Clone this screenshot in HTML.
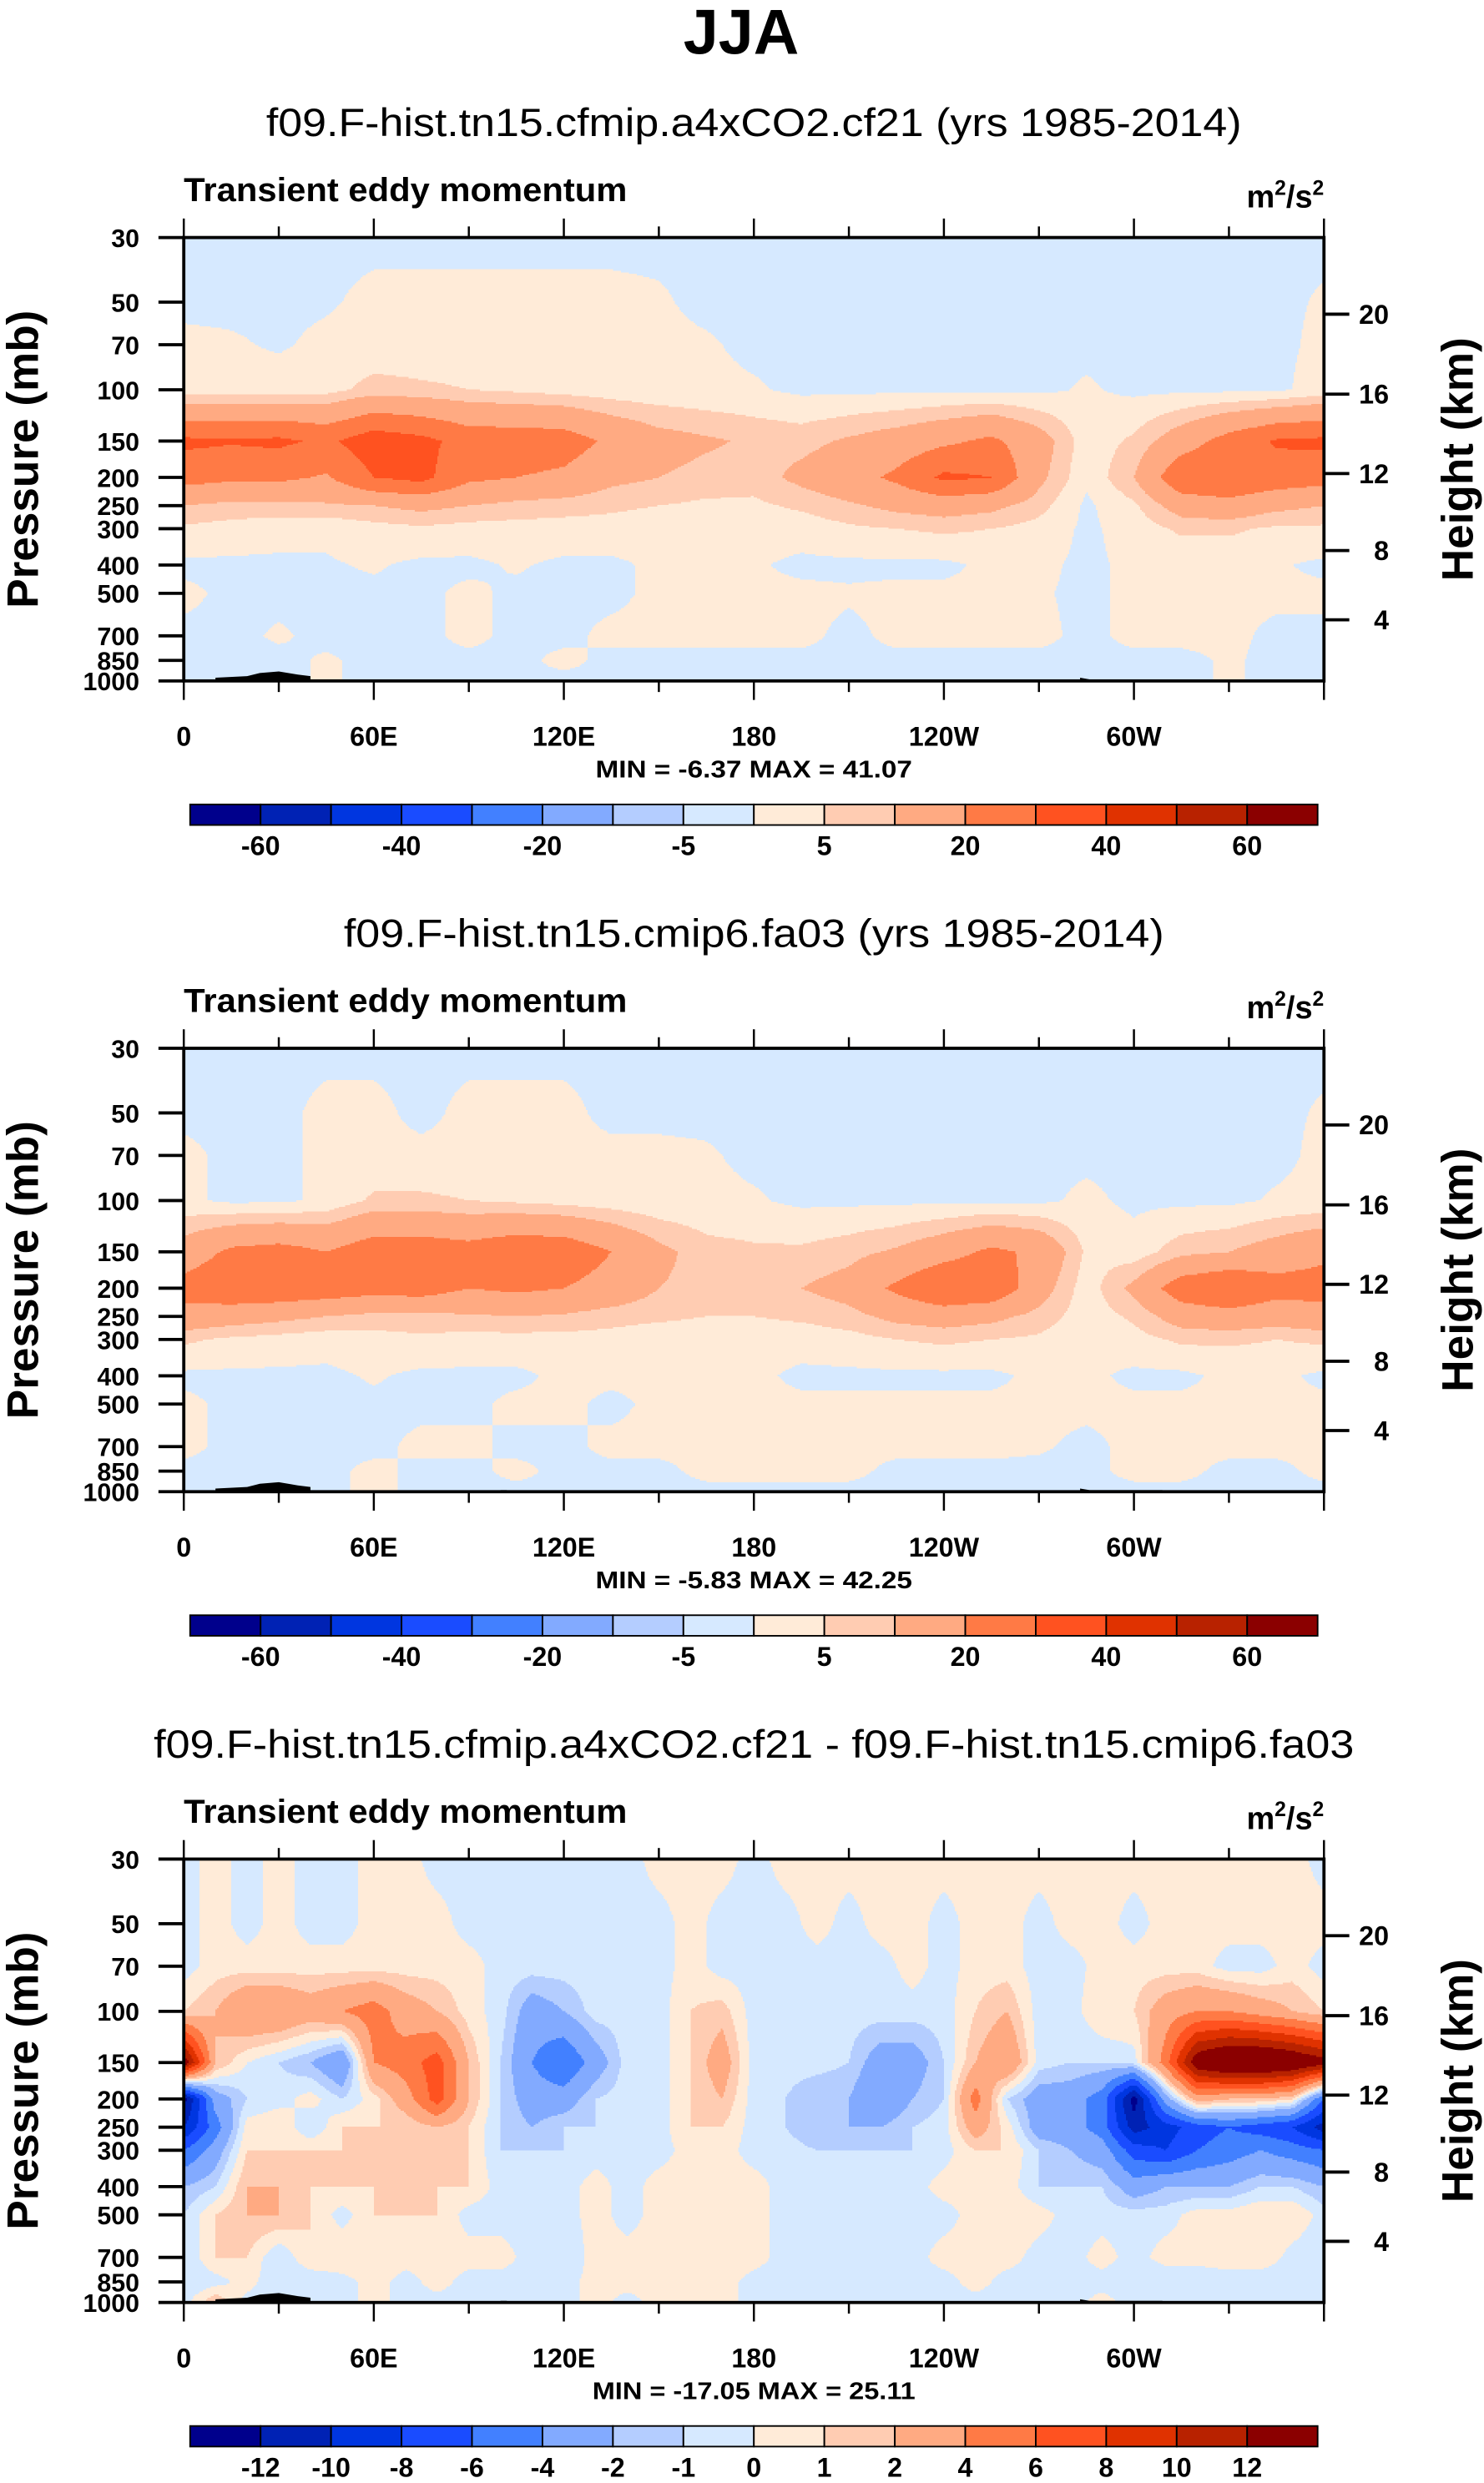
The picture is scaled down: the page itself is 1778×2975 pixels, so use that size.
<!DOCTYPE html>
<html><head><meta charset="utf-8">
<style>
html,body{margin:0;padding:0;background:#fff;}
svg{display:block;}
text{font-family:"Liberation Sans",Arial,sans-serif;}
</style></head>
<body>
<svg id="fig" xmlns="http://www.w3.org/2000/svg" width="1778" height="2975" viewBox="0 0 937 1568">
<text x="468" y="34" text-anchor="middle" font-size="40" font-weight="bold" textLength="73" lengthAdjust="spacingAndGlyphs">JJA</text>
</svg>
<script>
// ---------- data ----------
const levels = [30,50,70,100,150,200,250,300,400,500,700,850,1000];
const lonsAB = [0,15,30,45,60,75,90,105,120,135,150,165,180,195,210,225,240,255,270,285,300,315,330,345,360];
const lonsD = [0,10,20,30,40,50,60,70,80,90,100,110,120,130,140,150,160,170,180,190,200,210,220,230,240,250,260,270,280,290,300,310,320,330,340,350,360];
const lonTickLabels = ["0","60E","120E","180","120W","60W"];
const pressureTickLabels = ["30","50","70","100","150","200","250","300","400","500","700","850","1000"];
const heightTickLabels = ["4","8","12","16","20"];
const heightTickPressures = [616.6,356.5,194,103.5,55];
const levelsAB = [-60,-50,-40,-30,-20,-10,-5,0,5,10,20,30,40,50,60];
const labelsAB = ["-60","","-40","","-20","","-5","","5","","20","","40","","60"];
const levelsD = [-12,-10,-8,-6,-4,-2,-1,0,1,2,4,6,8,10,12];
const labelsD = ["-12","-10","-8","-6","-4","-2","-1","0","1","2","4","6","8","10","12"];
const colors = ["#00008c","#0022b4","#0036e0","#1a4cff","#4280ff","#82aaff","#b4cdff","#d6e9ff","#ffebd8","#ffccb2","#ffaa82","#ff7a45","#ff5220","#e03200","#b82200","#8b0000"];

const fieldA = [
[-1,-1,-1,-1,-1,-1,-1,-1,-1,-1,-1,-1,-1,-1,-1,-1,-1,-1,-1,-1,-1,-1,-1,-1,-1],
[-1,-1,-1,-0.5,1,1,1,1,1,1,0.5,-1,-1,-1,-1,-1,-1,-1,-1,-1,-1,-1,-1,-1,0.5],
[1,0.5,-0.5,1,1.5,1.5,1.5,1,1,1,1,0.5,-1,-1,-1,-1,-1,-1,-1,-1,-1,-1,-1,-1,1],
[2,2,2,3,7,6,5,4,3,2,1.5,1,0.5,-1,-1,-1,-1,-1,-1,0.5,-1,-1,-1,-1,2],
[32,31,32,28,36,33,26,26,25,18,13,11,9,8,11,14,18,22,14,2,6,15,24,31,32],
[24,22,22,19,30,33,22,20,18,12,10,8,7,12,16,22,32,30,12,1,10,28,30,26,24],
[10,8,8,9,10,12,10,8,7,6,5,4,4,6,9,12,14,12,7,-1,4,14,16,12,10],
[4,3,2,1,3,4,3,3,3,3,2,2,2,2,4,5,6,5,3,-1,2,6,6,4,4],
[-1,-1,-1,-0.5,0.5,-1,-1,0.5,-1,-1,1,1,0.5,-1,-1,-1,-1,1,1,-1,1,1,1,0.5,-1],
[1,-1,-1,-1,-1,-1,1,-1,-1,-1,1,1,1,1,0.5,1,1,1,0.5,-1,1,1,1,1,1],
[-1,-1,0.5,-1,-1,-1,1,-1,-1,1,1,1,1,1,-1,1,1,1,1,-1,1,1,1,-1,-1],
[-1,-1,-1,0.5,-1,-1,-1,-1,1,-1,-1,-1,-1,-1,-1,-1,-1,-1,-1,-1,-1,-1,0.5,-1,-1],
[-1,-1,-1,0.5,-1,-1,-1,-1,-1,-1,-1,-1,-1,-1,-1,-1,-1,-1,-1,-1,-1,-1,0.5,-1,-1]];

const fieldB = [
[-1,-1,-1,-1,-1,-1,-1,-1,-1,-1,-1,-1,-1,-1,-1,-1,-1,-1,-1,-1,-1,-1,-1,-1,-1],
[-1,-1,-1,1,1,-1,1,1,1,-1,-1,-1,-1,-1,-1,-1,-1,-1,-1,-1,-1,-1,-1,-1,0.5],
[1,-1,-1,1,1,1,1,1,1,1,1,0.5,-1,-1,-1,-1,-1,-1,-1,-1,-1,-1,-1,-1,1],
[1,-1,-1,1,6,6,5,4,3,2,1,1,0.5,-1,-1,-1,-1,-1,-1,1,-1,-1,-1,0.5,1],
[14,22,24,20,26,26,24,28,27,20,12,7,6,6,8,11,16,22,18,4,2,8,10,14,18],
[24,28,28,26,24,25,20,22,20,16,10,8,6,10,13,22,30,28,14,2,12,26,30,24,24],
[16,14,12,10,8,8,9,10,9,7,6,5,5,6,8,12,14,12,8,2,6,14,16,14,16],
[6,4,3,2,3,4,3,3,3,3,2,2,2,2,3,5,6,5,4,1,3,6,6,5,6],
[-1,-1,-1,-1,0.5,-1,-1,-1,1,1,1,1,1,-1,-1,-1,-1,-1,1,1,-1,-1,1,1,-1],
[1,-1,-1,-1,-1,-1,-1,1,1,-1,1,1,1,1,1,1,1,1,1,1,1,1,1,1,1],
[1,-1,-1,-1,-1,1,1,-1,-1,1,1,1,1,1,1,1,1,1,0.5,-1,1,1,1,1,1],
[-1,-1,-1,-1,1,-1,-1,1,-1,-1,-1,1,1,1,1,-1,-1,-1,-1,-1,1,1,-1,-1,1],
[-1,-1,-1,-1,1,-1,-1,-1,-1,-1,-1,-1,-1,-1,-1,-1,-1,-1,-1,-1,-1,-1,-1,-1,-1]];

const fieldD = [
[-0.5,0.5,-0.5,0.5,-0.5,-0.5,0.5,0.5,-0.5,-0.5,-0.5,-0.5,-0.5,-0.5,-0.5,0.5,0.5,0.5,-0.5,0.5,0.5,0.5,0.5,0.5,0.5,0.5,0.5,0.5,0.5,0.5,0.5,0.5,0.5,0.5,0.5,0.5,-0.5],
[-0.5,0.5,-0.5,0.5,-0.5,-0.5,0.5,0.5,0.5,-0.5,-0.5,-0.5,-0.5,-0.5,-0.5,-0.5,0.5,-0.5,-0.5,-0.5,0.5,-0.5,0.5,0.5,-0.5,0.5,0.5,-0.5,0.5,0.5,-0.5,0.5,0.5,0.5,0.5,0.5,0.5],
[-0.5,0.5,0.5,0.5,0.5,0.5,0.5,0.5,0.5,0.5,-0.5,-0.5,-0.5,-0.5,-0.5,-0.5,0.5,-0.5,-0.5,-0.5,-0.5,-0.5,-0.5,0.5,-0.5,0.5,0.5,-0.5,-0.5,0.5,0.5,0.5,0.5,-0.5,-0.5,0.5,-0.5],
[1,2,4,4,3,4,5,3,2,0.5,-0.5,-3,-2,-0.5,-0.5,-0.5,1,1.5,-0.5,-0.5,-0.5,-0.5,-0.5,-0.5,-0.5,1,2,-0.5,-0.5,1,1,3,4,4,3,2,1],
[14,2,0,-1,-2,-4,4,5,7,2,-1,-4,-6,-3,-0.5,-0.5,1,3,-0.5,-0.5,-0.5,-1,-3,-3,-1,2,4,-0.5,-1,-1,-0.5,5,14,16,16,15,13],
[-13,-3,-1,-0.5,0.5,-1,0.5,3,7,2,-1,-3,-3,-1,-0.5,-0.5,1,2,-0.5,-1,-2,-2,-4,-2,-1,5,-1,-3,-3,-5,-13,-3,3,2,2,1,-6],
[-10,-5,0.5,1,-1,1,1,1,2,1,-1,-2,-1,-1,-0.5,-0.5,1,1,-0.5,-1,-2,-2,-2,-1,-0.5,3,0.5,-3,-3,-5,-11,-9,-7,-6,-7,-8,-11],
[-6,-3,1,1,1,1,1,1,1,1,-1,-1,-1,-0.5,-0.5,-0.5,0.5,0.5,-0.5,-0.5,-1,-1,-1,-1,-0.5,1,1,-1,-2,-3,-7,-8,-6,-5,-4,-5,-6],
[-2,-1,2,2,1,1,1,1,1,1,-0.5,-0.5,-0.5,0.5,-0.5,0.5,0.5,0.5,0.5,-0.5,-0.5,-0.5,-0.5,-0.5,0.5,0.5,0.5,-1,-1,-1,-3,-2,-2,-2,-1,-1,-2],
[-1,1,2,2,1,-0.5,1,1,1,-0.5,-0.5,-0.5,-0.5,0.5,-0.5,0.5,0.5,0.5,0.5,-0.5,-0.5,-0.5,-0.5,-0.5,-0.5,0.5,1,0.5,-0.5,-0.5,-0.5,-0.5,0.5,0.5,1,1,-0.5],
[-1,1,1,-1,1,1,1,0.5,0.5,0.5,0.5,-0.5,-1,0.5,0.5,0.5,0.5,1,0.5,-0.5,-0.5,-0.5,-0.5,-0.5,0.5,0.5,0.5,-0.5,-0.5,0.5,-0.5,0.5,0.5,1,1,-0.5,-1],
[-1,-0.5,0.5,-1,-1,-0.5,0.5,-0.5,0.5,-0.5,-0.5,-0.5,-0.5,0.5,0.5,0.5,0.5,0.5,-0.5,-0.5,-0.5,-0.5,-0.5,-0.5,-0.5,0.5,-0.5,-0.5,-0.5,-0.5,-1,-1,-1,-1,-1,-1,-1],
[-0.5,2,-0.5,-0.5,-0.5,-0.5,0.5,-0.5,-0.5,-0.5,-0.5,-0.5,-0.5,0.5,-0.5,0.5,0.5,0.5,-0.5,-0.5,-0.5,-0.5,-0.5,-0.5,-0.5,-0.5,-0.5,-0.5,-0.5,0.5,-0.5,-0.5,-0.5,-0.5,-0.5,-0.5,-0.5]];

const subtitles = ["f09.F-hist.tn15.cfmip.a4xCO2.cf21 (yrs 1985-2014)","f09.F-hist.tn15.cmip6.fa03 (yrs 1985-2014)","f09.F-hist.tn15.cfmip.a4xCO2.cf21 - f09.F-hist.tn15.cmip6.fa03"];
const subtitleWidths = [616,518,758];
const minmax = ["MIN =  -6.37   MAX =  41.07","MIN =  -5.83   MAX =  42.25","MIN = -17.05   MAX =  25.11"];
const minmaxWidths = [200,200,204];

// ---------- drawing ----------
const NS="http://www.w3.org/2000/svg";
const svg=document.getElementById('fig');
const X0=116,X1=836,PH=280;
function mk(tag,attrs,parent){const e=document.createElementNS(NS,tag);for(const k in attrs)e.setAttribute(k,attrs[k]);(parent||svg).appendChild(e);return e;}
function xScale(lon){return X0+(lon/360)*(X1-X0);}
function yScale(p,top){return top+PH*Math.log10(p/30)/Math.log10(1000/30);}
function pFromY(y,top){return 30*Math.pow(1000/30,(y-top)/PH);}
function interp(field,lons,lon,p){
  const lp=Math.log(p);
  let k=0;while(k<levels.length-2&&p>levels[k+1])k++;
  const t=(lp-Math.log(levels[k]))/(Math.log(levels[k+1])-Math.log(levels[k]));
  let i=0;while(i<lons.length-2&&lon>lons[i+1])i++;
  const s=(lon-lons[i])/(lons[i+1]-lons[i]);
  const a=field[k][i]*(1-s)+field[k][i+1]*s;
  const b=field[k+1][i]*(1-s)+field[k+1][i+1]*s;
  return a*(1-t)+b*t;
}
function colorIdx(v,lv){let c=0;while(c<lv.length&&v>=lv[c])c++;return c;}

function panel(n,field,lons,lv,lbls){
  const off=512*n, top=150+off, bot=top+PH;
  const g=mk('g',{});
  
  
  const st=mk('text',{x:476,y:86+off,'text-anchor':'middle','font-size':25,textLength:subtitleWidths[n],lengthAdjust:'spacingAndGlyphs'},g);
  st.textContent=subtitles[n];
  
  
  const lt=mk('text',{x:116,y:127+off,'font-size':21,'font-weight':'bold',textLength:280,lengthAdjust:'spacingAndGlyphs'},g);
  lt.textContent='Transient eddy momentum';
  
  
  const ut=mk('text',{x:836,y:131+off,'text-anchor':'end','font-size':20,'font-weight':'bold'},g);
  ut.innerHTML='m<tspan dy="-8" font-size="13">2</tspan><tspan dy="8">/s</tspan><tspan dy="-8" font-size="13">2</tspan>';
  
  
  const cg=mk('g',{'shape-rendering':'crispEdges'},g);
  
  
  for(let y=top;y<bot;y+=1){
    const p=pFromY(y+0.5,top);
    let runStart=0,runC=-1;
    for(let xi=0;xi<=720;xi++){
      let c=-2;
      if(xi<720){const v=interp(field,lons,(xi+0.5)/2,p);c=colorIdx(v,lv);}
      if(c!==runC){
        if(runC>=0){const r=mk('rect',{x:X0+runStart,y:y,width:xi-runStart,height:1.05,fill:colors[runC]},cg);
          
          }
        runStart=xi;runC=c;
      }
    }
  }
  const topo=mk('path',{d:`M${xScale(10)} ${bot} L${xScale(10)} ${bot-2} L${xScale(20)} ${bot-3} L${xScale(24)} ${bot-5} L${xScale(30)} ${bot-6} L${xScale(36)} ${bot-4} L${xScale(40)} ${bot-3} L${xScale(40)} ${bot} Z M${xScale(283)} ${bot} L${xScale(283)} ${bot-2} L${xScale(286)} ${bot-1} L${xScale(309)} ${bot-1} L${xScale(309)} ${bot} Z M${xScale(100)} ${bot} L${xScale(100)} ${bot-1} L${xScale(102)} ${bot-1} L${xScale(102)} ${bot} Z`,fill:'#000'},g);
  
  
  const fr=mk('rect',{x:X0,y:top,width:X1-X0,height:PH,fill:'none',stroke:'#000','stroke-width':2},g);
  
  
  for(let lon=0;lon<=360;lon+=30){
    const major=lon%60===0, L=major?12:7, x=xScale(lon);
    const t1=mk('line',{x1:x,x2:x,y1:top,y2:top-L,stroke:'#000','stroke-width':1.3},g);
    
    
    const t2=mk('line',{x1:x,x2:x,y1:bot,y2:bot+L,stroke:'#000','stroke-width':1.3},g);
    
    
    if(major&&lon<360){
      const tl=mk('text',{x:x,y:bot+41,'text-anchor':'middle','font-size':17,'font-weight':'bold'},g);
      tl.textContent=lonTickLabels[lon/60];
      
      
    }
  }
  levels.forEach((p,i)=>{
    const y=yScale(p,top);
    const t=mk('line',{x1:X0,x2:X0-16,y1:y,y2:y,stroke:'#000','stroke-width':2},g);
    
    
    const tl=mk('text',{x:88,y:y+6,'text-anchor':'end','font-size':16,'font-weight':'bold'},g);
    tl.textContent=pressureTickLabels[i];
    
    
  });
  heightTickPressures.forEach((p,i)=>{
    const y=yScale(p,top);
    const t=mk('line',{x1:X1,x2:X1+16,y1:y,y2:y,stroke:'#000','stroke-width':2},g);
    
    
    const tl=mk('text',{x:877,y:y+6,'text-anchor':'end','font-size':17,'font-weight':'bold'},g);
    tl.textContent=heightTickLabels[i];
    
    
  });
  const ya=mk('text',{x:0,y:0,'text-anchor':'middle','font-size':28,'font-weight':'bold',transform:`translate(24 ${top+140}) rotate(-90)`},g);
  ya.textContent='Pressure (mb)';
  
  
  const ha=mk('text',{x:0,y:0,'text-anchor':'middle','font-size':28,'font-weight':'bold',transform:`translate(930 ${top+140}) rotate(-90)`},g);
  ha.textContent='Height (km)';
  
  
  const mm=mk('text',{x:476,y:bot+61,'text-anchor':'middle','font-size':15,'font-weight':'bold','xml:space':'preserve',textLength:minmaxWidths[n],lengthAdjust:'spacingAndGlyphs'},g);
  mm.textContent=minmax[n];
  
  
  const cb=mk('g',{},g);
  
  
  const cx0=120,cw=712/16,cy=508+off;
  colors.forEach((c,i)=>{
    const r=mk('rect',{x:cx0+i*cw,y:cy,width:cw,height:13,fill:c,stroke:'#000','stroke-width':1},cb);
    
    
  });
  lbls.forEach((s,i)=>{
    if(!s)return;
    const tl=mk('text',{x:cx0+(i+1)*cw,y:cy+32,'text-anchor':'middle','font-size':17,'font-weight':'bold'},cb);
    tl.textContent=s;
    
    
  });
}
panel(0,fieldA,lonsAB,levelsAB,labelsAB);
panel(1,fieldB,lonsAB,levelsAB,labelsAB);
panel(2,fieldD,lonsD,levelsD,labelsD);
</script>
</body></html>
